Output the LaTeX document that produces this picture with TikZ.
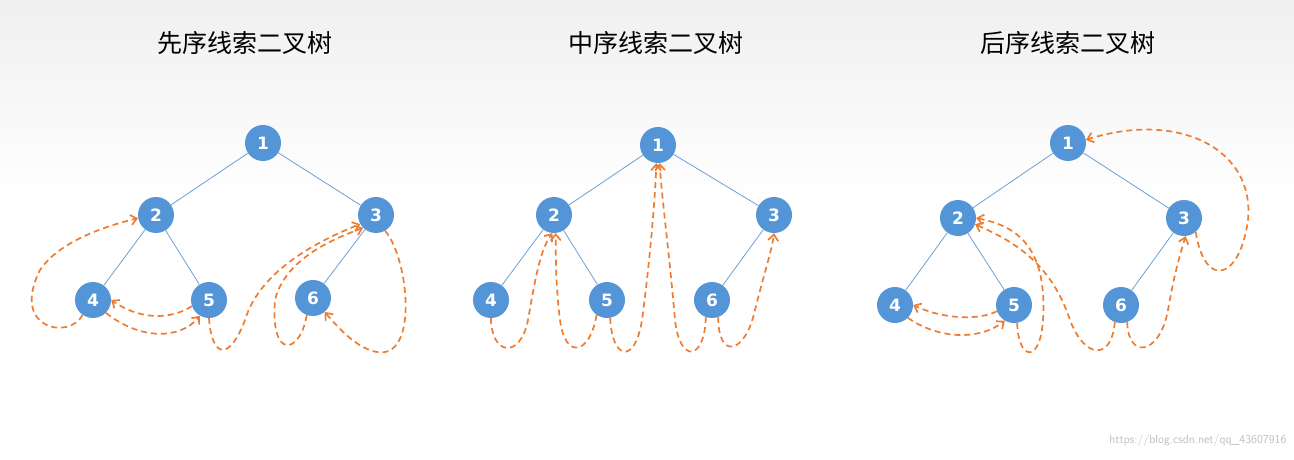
\documentclass[tikz,border=0pt]{standalone}
\usepackage{fontspec}
\newfontfamily\cjk{Noto Sans CJK SC}
\newfontfamily\numfont{DejaVu Sans}
\usetikzlibrary{arrows.meta}
\definecolor{nodeblue}{RGB}{84,149,215}
\definecolor{edgeblue}{RGB}{110,160,210}
\definecolor{thread}{RGB}{237,125,49}
\tikzstyle{vtx}=[circle,fill=nodeblue,minimum size=36pt,inner sep=0pt,text=white,font=\numfont\bfseries\fontsize{17}{17}\selectfont]
\tikzstyle{edge}=[draw=edgeblue,line width=0.8pt]
\tikzstyle{thr}=[draw=thread,line width=1.7pt,dash pattern=on 6pt off 4pt,-{Straight Barb[length=6pt,width=10pt]}]
\tikzstyle{title}=[font=\cjk\fontsize{25}{25}\selectfont]
\newcommand{\drawtree}[7]
{
  % #1 prefix, #2..#7 positions of nodes 1..6
  \node[vtx](#1a) at #2 {1};
  \node[vtx](#1b) at #3 {2};
  \node[vtx](#1c) at #4 {3};
  \node[vtx](#1d) at #5 {4};
  \node[vtx](#1e) at #6 {5};
  \node[vtx](#1f) at #7 {6};
  \draw[edge] (#1a) -- (#1b);
  \draw[edge] (#1a) -- (#1c);
  \draw[edge] (#1b) -- (#1d);
  \draw[edge] (#1b) -- (#1e);
  \draw[edge] (#1c) -- (#1f);
}
\begin{document}
\begin{tikzpicture}[x=1pt,y=-1pt]
	\fill[top color=black!6,bottom color=white] (0,0) rectangle (1294,200);
	\fill[white] (0,200) rectangle (1294,460);
	\useasboundingbox (0,0) rectangle (1294,460);

	\node[title](t1) at (245,43) {先序线索二叉树};
	\node[title](t2) at (656,43) {中序线索二叉树};
	\node[title](t3) at (1068,43) {后序线索二叉树};

	\drawtree{p}{(263,143)}{(156,215)}{(376,215)}{(93,300)}{(209,300)}{(313,298)}
	\drawtree{m}{(658,145)}{(554,215)}{(774,215)}{(491,300)}{(607,300)}{(712,300)}
	\drawtree{q}{(1068,143)}{(958,218)}{(1184,218)}{(895,305)}{(1014,305)}{(1121,305)}

	% pre-order threads
	\draw[thr] (pd.235) .. controls (70,340) and (10,330) .. (40,270) .. controls (60,240) and (110,225) .. (pb.190);
	\draw[thr] (pd.315) .. controls (140,340) and (180,340) .. (pe.240);
	\draw[thr] (pe.200) .. controls (170,320) and (140,320) .. (pd.0);
	\draw[thr] (pe.270) .. controls (212,360) and (230,360) .. (245,320) .. controls (260,270) and (320,240) .. (pc.210);
	\draw[thr] (pf.250) .. controls (300,355) and (270,360) .. (275,300) .. controls (285,260) and (330,240) .. (pc.225);
	\draw[thr] (pc.300) .. controls (410,260) and (420,370) .. (370,350) .. controls (355,345) and (340,330) .. (pf.310);

	% in-order threads
	\draw[thr] (md.270) .. controls (491,355) and (520,360) .. (528,320) .. controls (535,280) and (540,250) .. (mb.265);
	\draw[thr] (me.235) .. controls (590,355) and (565,360) .. (560,320) .. controls (555,280) and (556,250) .. (mb.275);
	\draw[thr] (me.280) .. controls (612,360) and (635,365) .. (642,320) .. controls (650,260) and (655,200) .. (ma.265);
	\draw[thr] (mf.250) .. controls (705,360) and (680,365) .. (675,320) .. controls (670,260) and (662,200) .. (ma.275);
	\draw[thr] (mf.290) .. controls (718,360) and (745,355) .. (755,310) .. controls (765,270) and (772,250) .. (mc.270);

	% post-order threads
	\draw[thr] (qd.315) .. controls (940,340) and (980,340) .. (qe.240);
	\draw[thr] (qe.200) .. controls (980,320) and (945,320) .. (qd.0);
	\draw[thr] (qe.280) .. controls (1018,360) and (1040,365) .. (1043,320) .. controls (1048,240) and (1010,225) .. (qb.0);
	\draw[thr] (qf.250) .. controls (1112,360) and (1085,360) .. (1070,320) .. controls (1050,260) and (1010,240) .. (qb.340);
	\draw[thr] (qf.290) .. controls (1128,360) and (1160,355) .. (1168,310) .. controls (1175,270) and (1180,255) .. (qc.275);
	\draw[thr] (qc.310) .. controls (1205,290) and (1240,280) .. (1248,220) .. controls (1255,150) and (1180,110) .. (qa.10);

	\node[text=black!25,font=\sffamily\fontsize{12}{12}\selectfont,anchor=east](wm) at (1290,440) {https://blog.csdn.net/qq\_43607916};
\end{tikzpicture}
\end{document}
